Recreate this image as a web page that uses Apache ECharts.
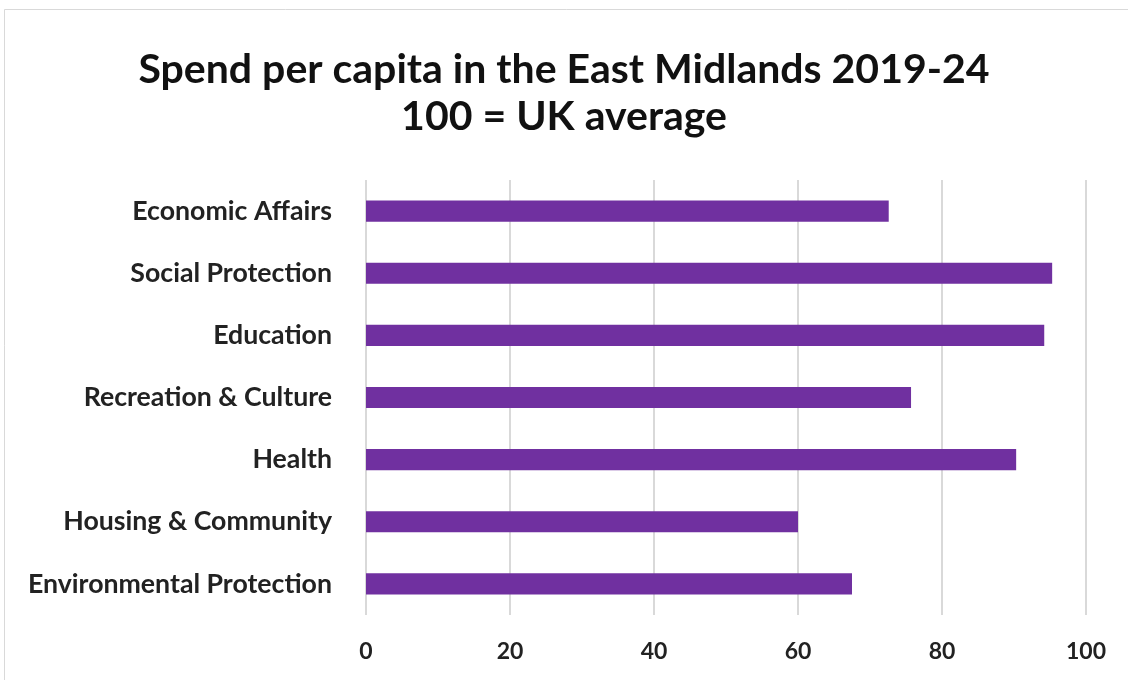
<!DOCTYPE html>
<html>
<head>
<meta charset="utf-8">
<script src="https://cdn.jsdelivr.net/npm/echarts@6/dist/echarts.min.js"></script>
<style>
html,body{margin:0;padding:0;background:#fff;}
#chart{width:1128px;height:680px;}
</style>
</head>
<body>
<div id="chart"></div>
<script>
const titleLines = ['Spend per capita in the East Midlands 2019-24', '100 = UK average'];
const categories = ['Economic Affairs','Social Protection','Education','Recreation & Culture','Health','Housing & Community','Environmental Protection'];
const values = [72.6, 95.3, 94.2, 75.7, 90.3, 60.0, 67.5];
const xTicks = [0, 20, 40, 60, 80, 100];

const chart = echarts.init(document.getElementById('chart'));
chart.setOption({
  backgroundColor: '#fff',
  animation: false,
  title: {
    text: titleLines.join('\n'),
    left: 'center',
    top: 41,
    textStyle: {fontFamily: 'Lato', fontWeight: 'bold', fontSize: 41, color: '#111', lineHeight: 47}
  },
  graphic: [{
    type: 'rect', shape: {x: 4.5, y: 9.5, width: 1140, height: 700},
    style: {fill: 'none', stroke: '#d9d9d9', lineWidth: 1}, silent: true
  }],
  grid: {left: 366, right: 42, top: 180, bottom: 65, containLabel: false},
  xAxis: {
    type: 'value', min: 0, max: 100, interval: 20,
    axisLine: {show: false}, axisTick: {show: false},
    splitLine: {lineStyle: {color: '#d9d9d9', width: 2}},
    axisLabel: {
      margin: 25, fontFamily: 'Lato', fontWeight: 'bold', fontSize: 23, color: '#222',
      formatter: v => xTicks.includes(v) ? String(v) : ''
    }
  },
  yAxis: {
    type: 'category', inverse: true, data: categories,
    axisLine: {show: false}, axisTick: {show: false},
    axisLabel: {margin: 34, fontFamily: 'Lato', fontWeight: 'bold', fontSize: 26.7, color: '#222'}
  },
  series: [{
    type: 'bar', data: values, barWidth: '34%',
    itemStyle: {color: '#7030A0'}
  }]
});
</script>
</body>
</html>
